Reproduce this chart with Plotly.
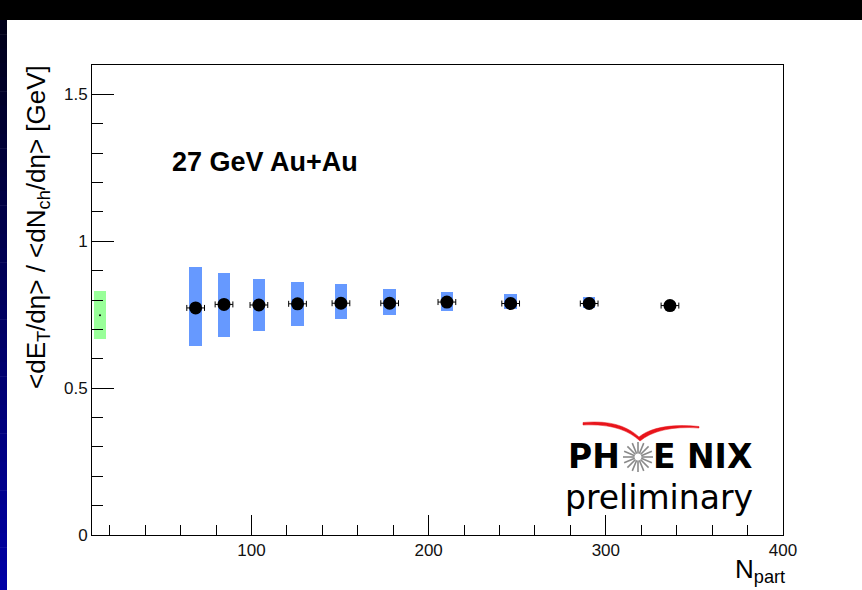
import math
import plotly.graph_objects as go

# Au+Au 27 GeV: transverse energy per charged particle vs number of participants
npart = [68.5, 84.5, 104.2, 126.0, 150.5, 178.0, 210.3, 246.3, 290.6, 336.2]
npart_err = [5, 5, 5, 5, 5, 5, 5, 5, 5, 5]
et_over_nch = [0.773, 0.785, 0.783, 0.787, 0.789, 0.789, 0.793, 0.788, 0.788, 0.781]
sys_lo = [0.645, 0.673, 0.695, 0.712, 0.734, 0.749, 0.762, 0.771, 0.773, 0.774]
sys_hi = [0.912, 0.893, 0.873, 0.860, 0.853, 0.839, 0.826, 0.819, 0.811, 0.789]

# p+p reference point with its systematic band
pp_npart = [14.5]
pp_ratio = [0.748]
pp_lo = [0.667]
pp_hi = [0.830]

x_ticks = [100, 200, 300, 400]
y_ticks = [0, 0.5, 1, 1.5]

# frame geometry in pixels (used for decorations placed in paper coordinates)
W, H = 862, 590
L, R, T, B = 92, 783, 65, 535


def px(x):
    return (x - L) / (R - L)


def py(y):
    return (B - y) / (B - T)


fig = go.Figure()

fig.add_trace(go.Bar(
    x=pp_npart, base=pp_lo, y=[h - l for h, l in zip(pp_hi, pp_lo)],
    width=7.2, marker=dict(color="#99ff99", line=dict(width=0)),
    showlegend=False, hoverinfo="skip"))
fig.add_trace(go.Bar(
    x=npart, base=sys_lo, y=[h - l for h, l in zip(sys_hi, sys_lo)],
    width=7, marker=dict(color="#6699ff", line=dict(width=0)),
    showlegend=False, hoverinfo="skip"))
fig.add_trace(go.Scatter(
    x=pp_npart, y=pp_ratio, mode="markers",
    marker=dict(color="black", size=2), showlegend=False))
fig.add_trace(go.Scatter(
    x=npart, y=et_over_nch, mode="markers",
    marker=dict(color="black", size=13, symbol="circle"),
    error_x=dict(type="data", array=npart_err, color="black", thickness=1, width=3),
    showlegend=False))

axis_font = dict(family="Liberation Sans, Arial, sans-serif", size=17, color="#111111")

fig.update_xaxes(
    range=[10, 400], tickmode="array", tickvals=x_ticks,
    ticks="inside", ticklen=20, tickcolor="black", tickwidth=1,
    minor=dict(ticks="inside", ticklen=10, dtick=20, tick0=0, tickcolor="black", tickwidth=1),
    showline=True, linecolor="black", linewidth=1, mirror=True,
    showgrid=False, zeroline=False, tickfont=axis_font)
fig.update_yaxes(
    range=[0, 1.6], tickmode="array", tickvals=y_ticks, ticktext=["0", "0.5", "1", "1.5"],
    ticks="inside", ticklen=22, tickcolor="black", tickwidth=1,
    minor=dict(ticks="inside", ticklen=11, dtick=0.1, tick0=0, tickcolor="black", tickwidth=1),
    showline=True, linecolor="black", linewidth=1, mirror=True,
    showgrid=False, zeroline=False, tickfont=axis_font)

shapes = []
# dark band across the top of the page
shapes.append(dict(type="rect", xref="paper", yref="paper", layer="below",
                   x0=px(0), x1=px(W), y0=py(20), y1=py(0),
                   fillcolor="black", line=dict(width=0)))
# blue strip down the left edge, darkening towards the top
n_seg = 40
for i in range(n_seg):
    y0 = 20 + (H - 20) * i / n_seg
    y1 = 20 + (H - 20) * (i + 1) / n_seg + 0.5
    f = i / (n_seg - 1)
    shapes.append(dict(type="rect", xref="paper", yref="paper", layer="below",
                       x0=px(0), x1=px(7), y0=py(y1), y1=py(y0),
                       fillcolor=f"rgb(0,0,{int(25 + 140 * f)})", line=dict(width=0)))

# starburst between "PH" and "ENIX"
cx, cy = 638, 457
for k in range(16):
    a = 2 * math.pi * k / 16
    shapes.append(dict(type="line", xref="paper", yref="paper",
                       x0=px(cx + 3.5 * math.cos(a)), y0=py(cy + 3.5 * math.sin(a)),
                       x1=px(cx + 15 * math.cos(a)), y1=py(cy + 15 * math.sin(a)),
                       line=dict(color="#8a8a8a", width=1.6)))

# red swoosh above the logo
pts_top = [(583, 422.5), (612, 420.0), (628, 427), (639, 437)]
pts_right_top = [(639, 437), (650, 428), (670, 423.5), (699, 426.5)]
pts_right_bot = [(699, 428), (672, 426), (652, 431), (640, 441)]
pts_bot = [(640, 441), (628, 430), (611, 423.8), (583, 425)]


def seg(p):
    return "C {} {}, {} {}, {} {}".format(px(p[1][0]), py(p[1][1]), px(p[2][0]), py(p[2][1]),
                                         px(p[3][0]), py(p[3][1]))


path = "M {} {} ".format(px(pts_top[0][0]), py(pts_top[0][1]))
path += seg(pts_top) + " " + seg(pts_right_top)
path += " L {} {} ".format(px(pts_right_bot[0][0]), py(pts_right_bot[0][1]))
path += seg(pts_right_bot) + " " + seg(pts_bot) + " Z"
shapes.append(dict(type="path", xref="paper", yref="paper", path=path,
                   fillcolor="#e8141b", line=dict(color="#e8141b", width=0.5)))

logo_bold = dict(family="DejaVu Sans, sans-serif", size=33, color="black")
logo_y = py(456)
annotations = [
    dict(text="&lt;dE<sub>T</sub>/dη&gt; / &lt;dN<sub>ch</sub>/dη&gt; [GeV]",
         xref="paper", yref="paper", x=px(37), y=py(63), xanchor="center", yanchor="top",
         textangle=-90, showarrow=False,
         font=dict(family="Liberation Sans, Arial, sans-serif", size=26, color="black")),
    dict(text="N<sub>part</sub>", xref="paper", yref="paper", x=px(787), y=py(570),
         xanchor="right", yanchor="middle", showarrow=False,
         font=dict(family="Liberation Sans, Arial, sans-serif", size=26, color="black")),
    dict(text="<b>27 GeV Au+Au</b>", xref="paper", yref="paper", x=px(170), y=py(162),
         xanchor="left", yanchor="middle", showarrow=False,
         font=dict(family="Liberation Sans, Arial, sans-serif", size=27, color="black")),
    dict(text="<b>PH</b>", xref="paper", yref="paper", x=px(621), y=logo_y,
         xanchor="right", yanchor="middle", showarrow=False, borderpad=0, font=logo_bold),
    dict(text="<b>E</b>", xref="paper", yref="paper", x=px(652), y=logo_y,
         xanchor="left", yanchor="middle", showarrow=False, borderpad=0, font=logo_bold),
    dict(text="<b>NIX</b>", xref="paper", yref="paper", x=px(753), y=logo_y,
         xanchor="right", yanchor="middle", showarrow=False, borderpad=0, font=logo_bold),
    dict(text="preliminary", xref="paper", yref="paper", x=px(659), y=py(497),
         xanchor="center", yanchor="middle", showarrow=False, borderpad=0,
         font=dict(family="DejaVu Sans, sans-serif", size=33, color="black")),
]

fig.update_layout(
    width=W, height=H,
    margin=dict(l=L, r=W - R, t=T, b=H - B, pad=0),
    paper_bgcolor="white", plot_bgcolor="white",
    barmode="overlay", bargap=0,
    shapes=shapes, annotations=annotations,
    showlegend=False,
)

fig.write_html("out.html")
